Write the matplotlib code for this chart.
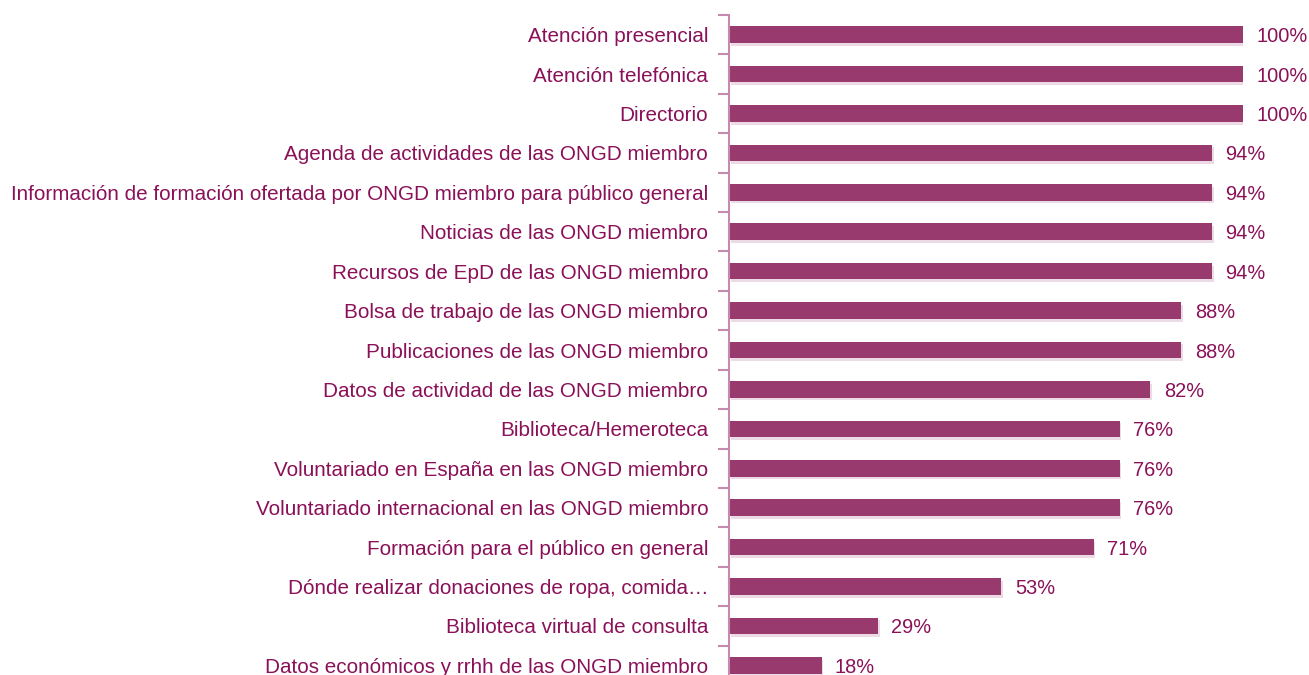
import matplotlib
matplotlib.use("Agg")
import matplotlib.pyplot as plt
import numpy as np

categories = [
    "Atención presencial",
    "Atención telefónica",
    "Directorio",
    "Agenda de actividades de las ONGD miembro",
    "Información de formación ofertada por ONGD miembro para público general",
    "Noticias de las ONGD miembro",
    "Recursos de EpD de las ONGD miembro",
    "Bolsa de trabajo de las ONGD miembro",
    "Publicaciones de las ONGD miembro",
    "Datos de actividad de las ONGD miembro",
    "Biblioteca/Hemeroteca",
    "Voluntariado en España en las ONGD miembro",
    "Voluntariado internacional en las ONGD miembro",
    "Formación para el público en general",
    "Dónde realizar donaciones de ropa, comida…",
    "Biblioteca virtual de consulta",
    "Datos económicos y rrhh de las ONGD miembro",
]
values = [100, 100, 100, 94, 94, 94, 94, 88, 88, 82, 76, 76, 76, 71, 53, 29, 18]

bar_color = "#993A6E"
text_color = "#8A1058"
axis_color = "#C68AAE"

plt.rcParams['font.family'] = ['Liberation Sans', 'DejaVu Sans']

fig = plt.figure(figsize=(13.09, 6.75), dpi=100)
ax = fig.add_axes([729/1309, 1 - 685/675, (1243-729)/1309, (685-15)/675])

n = len(categories)
y = np.arange(n)
# subtle shadow
ax.barh(y + 0.07, values, height=0.42, color="#ecdae4", left=0.3, zorder=1)
ax.barh(y, values, height=0.42, color=bar_color, zorder=2)

for yi, v in zip(y, values):
    ax.text(v + 2.6, yi, f"{v}%", va="center_baseline", ha="left", fontsize=14.4, color=text_color)

ax.set_xlim(0, 100)
ax.set_ylim(n - 0.5, -0.5)
ax.set_yticks(y)
ax.set_yticklabels(categories, fontsize=14.85, color=text_color, va="center_baseline")
ax.set_yticks(np.arange(n + 1) - 0.5, minor=True)
ax.tick_params(axis='y', which='major', length=0, pad=15)
ax.tick_params(axis='y', which='minor', length=8, width=1.5, color=axis_color)
ax.set_xticks([])
for s in ['top', 'right', 'bottom']:
    ax.spines[s].set_visible(False)
ax.spines['left'].set_color(axis_color)
ax.spines['left'].set_linewidth(1.5)
ax.patch.set_alpha(0)

fig.savefig("out.png", dpi=100)
